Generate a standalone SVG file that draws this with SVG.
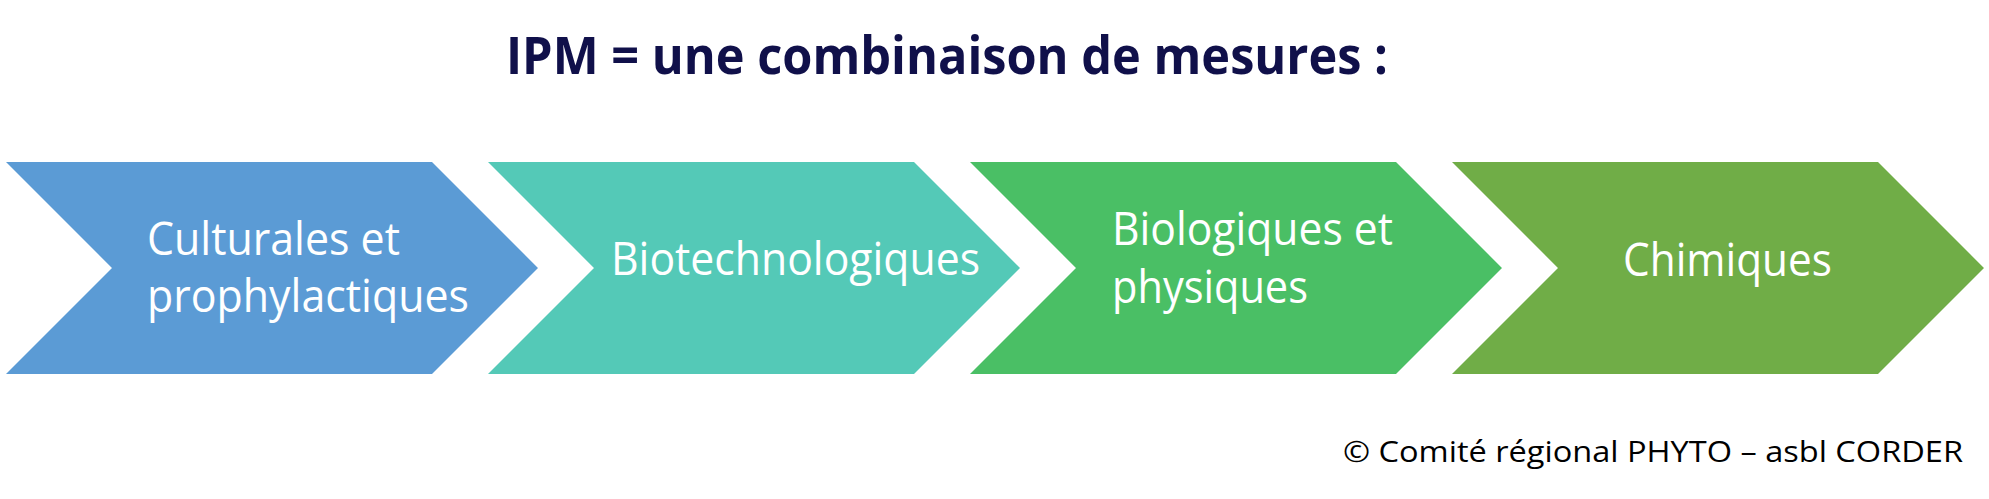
<svg xmlns="http://www.w3.org/2000/svg" width="1989" height="499" viewBox="0 0 1989 499">
<style>
.lbl{font-family:"Open Sans","Noto Sans","Liberation Sans",sans-serif;font-size:45px;fill:#FFFFFF;}
.title{font-family:"Open Sans","Noto Sans","Liberation Sans",sans-serif;font-size:52px;font-weight:bold;fill:#10104A;}
.foot{font-family:"Open Sans","Noto Sans","Liberation Sans",sans-serif;font-size:30px;fill:#000000;}
</style>
<rect width="1989" height="499" fill="#FFFFFF"/>
<text class="title" x="506" y="74" textLength="882" lengthAdjust="spacingAndGlyphs">IPM = une combinaison de mesures :</text>
<g id="node-culturales">
<polygon points="6,162 432,162 538,268 432,374 6,374 112,268" fill="#5B9BD5"/>
<text class="lbl" x="147" y="255" textLength="253" lengthAdjust="spacingAndGlyphs">Culturales et</text>
<text class="lbl" x="147" y="312" textLength="322" lengthAdjust="spacingAndGlyphs">prophylactiques</text>
</g>
<g id="node-biotech">
<polygon points="488,162 914,162 1020,268 914,374 488,374 594,268" fill="#54C9B7"/>
<text class="lbl" x="611" y="275" textLength="369" lengthAdjust="spacingAndGlyphs">Biotechnologiques</text>
</g>
<g id="node-biologiques">
<polygon points="970,162 1396,162 1502,268 1396,374 970,374 1076,268" fill="#4ABF65"/>
<text class="lbl" x="1112" y="245" textLength="281" lengthAdjust="spacingAndGlyphs">Biologiques et</text>
<text class="lbl" x="1112" y="303" textLength="196" lengthAdjust="spacingAndGlyphs">physiques</text>
</g>
<g id="node-chimiques">
<polygon points="1452,162 1878,162 1984,268 1878,374 1452,374 1558,268" fill="#70AD47"/>
<text class="lbl" x="1623" y="276" textLength="209" lengthAdjust="spacingAndGlyphs">Chimiques</text>
</g>
<g id="connectors"></g>
<text class="foot" x="1343" y="462" textLength="620" lengthAdjust="spacingAndGlyphs">© Comité régional PHYTO – asbl CORDER</text>
</svg>
